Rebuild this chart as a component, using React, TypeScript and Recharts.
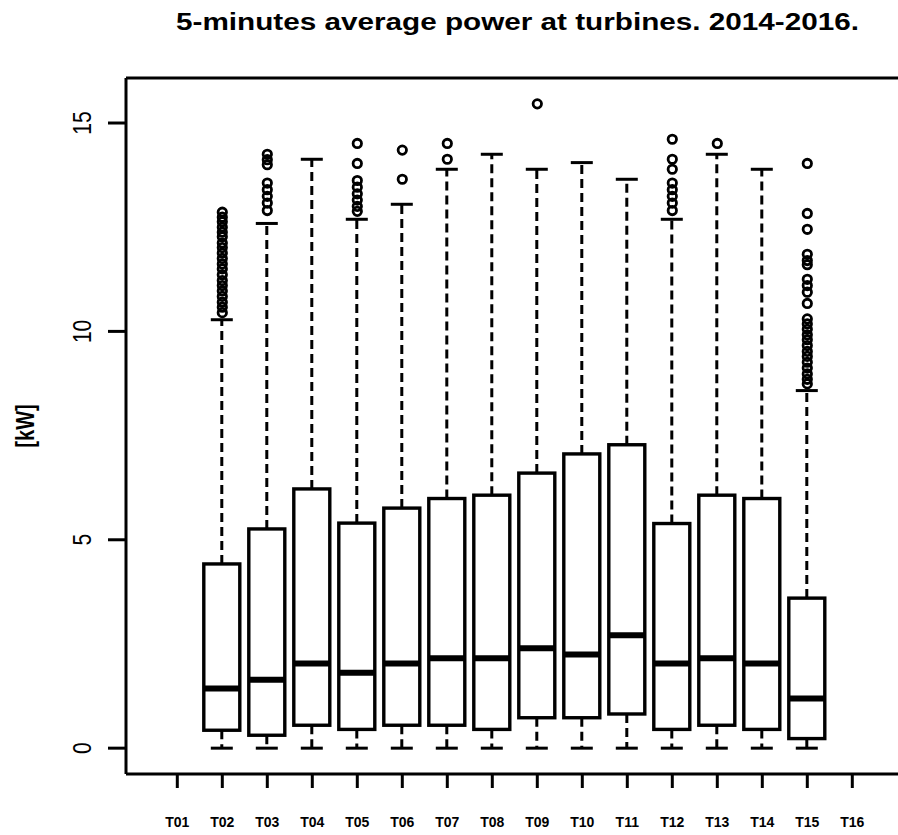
import React from 'react';
import { ComposedChart, Bar, Scatter, XAxis, YAxis, ReferenceLine } from 'recharts';

const turbines = ['T01', 'T02', 'T03', 'T04', 'T05', 'T06', 'T07', 'T08', 'T09', 'T10', 'T11', 'T12', 'T13', 'T14', 'T15', 'T16'];

// box statistics, only T02..T15 have data (positions are 1-based)
const positions = [2, 3, 4, 5, 6, 7, 8, 9, 10, 11, 12, 13, 14, 15];
const lowerWhisker = [0, 0, 0, 0, 0, 0, 0, 0, 0, 0, 0, 0, 0, 0];
const lowerHinge = [0.43, 0.31, 0.55, 0.45, 0.55, 0.55, 0.45, 0.73, 0.73, 0.82, 0.45, 0.55, 0.45, 0.23];
const medians = [1.43, 1.64, 2.03, 1.81, 2.03, 2.16, 2.16, 2.4, 2.25, 2.71, 2.03, 2.16, 2.03, 1.19];
const upperHinge = [4.42, 5.26, 6.22, 5.4, 5.76, 5.99, 6.07, 6.6, 7.06, 7.28, 5.39, 6.07, 5.99, 3.6];
const upperWhisker = [10.28, 12.59, 14.13, 12.69, 13.05, 13.89, 14.25, 13.89, 14.05, 13.65, 12.69, 14.25, 13.89, 8.58];

const outliersT02 = [12.86, 12.74, 12.63, 12.5, 12.38, 12.27, 12.12, 12.01, 11.88, 11.75, 11.62, 11.5, 11.36, 11.22, 11.1, 10.97, 10.84, 10.7, 10.58, 10.45];
const outliersT03 = [14.25, 14.12, 14.0, 13.56, 13.4, 13.24, 13.08, 12.9];
const outliersT05 = [14.51, 14.03, 13.62, 13.46, 13.3, 13.15, 13.0, 12.88];
const outliersT06 = [14.35, 13.65];
const outliersT07 = [14.51, 14.13];
const outliersT09 = [15.46];
const outliersT12 = [14.61, 14.13, 13.89, 13.56, 13.4, 13.24, 13.08, 12.9];
const outliersT13 = [14.51];
const outliersT15 = [14.03, 12.83, 12.45, 11.85, 11.7, 11.6, 11.25, 11.1, 10.94, 10.67, 10.3, 10.18, 10.05, 9.92, 9.8, 9.66, 9.52, 9.4, 9.26, 9.12, 8.98, 8.85, 8.74];

const yTicks = [0, 5, 10, 15];

const boxData = positions.map((x, i) => ({
  x,
  range: [lowerWhisker[i], upperWhisker[i]],
  lo: lowerWhisker[i],
  q1: lowerHinge[i],
  median: medians[i],
  q3: upperHinge[i],
  hi: upperWhisker[i],
}));

const outlierData = ([
  [2, outliersT02],
  [3, outliersT03],
  [5, outliersT05],
  [6, outliersT06],
  [7, outliersT07],
  [9, outliersT09],
  [12, outliersT12],
  [13, outliersT13],
  [15, outliersT15],
] as [number, number[]][]).flatMap(([x, vals]) => vals.map((v) => ({ x, v })));

// R-style ranges: 4% padding on both axes
const xDomain = [-0.14, 17.14];
const yDomain = [-0.62, 16.08];

const font = '"Liberation Sans", Arial, sans-serif';

const BoxShape = (props: any) => {
  const { x, y, width, height, payload } = props;
  if (!payload || !height) return null;
  const { lo, hi, q1, median, q3 } = payload;
  const toY = (v: number) => y + ((hi - v) / (hi - lo)) * height;
  const cx = x + width / 2;
  const cap = 11;
  return (
    <g>
      <line x1={cx} x2={cx} y1={toY(q3)} y2={y} stroke="#000" strokeWidth={3} strokeDasharray="9 5" />
      <line x1={cx} x2={cx} y1={toY(q1)} y2={y + height} stroke="#000" strokeWidth={3} strokeDasharray="9 5" />
      <line x1={cx - cap} x2={cx + cap} y1={y} y2={y} stroke="#000" strokeWidth={3} />
      <line x1={cx - cap} x2={cx + cap} y1={y + height} y2={y + height} stroke="#000" strokeWidth={3} />
      <rect x={x} y={toY(q3)} width={width} height={toY(q1) - toY(q3)} fill="#fff" stroke="#000" strokeWidth={3.4} />
      <line x1={x} x2={x + width} y1={toY(median)} y2={toY(median)} stroke="#000" strokeWidth={6} />
    </g>
  );
};

const OutlierShape = (props: any) => (
  <circle cx={props.cx} cy={props.cy} r={4.2} fill="none" stroke="#000" strokeWidth={2.8} />
);

// rotated tick labels, stretched across the axis like the rest of the figure
const YTick = ({ x, y, payload }: any) => (
  <text
    transform={`translate(${x} ${y}) rotate(-90) scale(1 1.27)`}
    textAnchor="middle"
    fontFamily={font}
    fontSize={21}
    fill="#000"
  >
    {payload.value}
  </text>
);

export default function App() {
  return (
    <div style={{ position: 'absolute', left: 0, top: 0, width: 898, height: 835, overflow: 'hidden', background: '#fff' }}>
      <ComposedChart
        width={920}
        height={835}
        data={boxData}
        margin={{ top: 78, right: 16.4, bottom: 0, left: 0 }}
      >
        <XAxis
          type="number"
          dataKey="x"
          domain={xDomain}
          allowDataOverflow
          ticks={turbines.map((_, i) => i + 1)}
          interval={0}
          tickFormatter={(v: number) => turbines[v - 1]}
          height={61}
          tickSize={14}
          tickMargin={29}
          axisLine={{ stroke: '#000', strokeWidth: 3 }}
          tickLine={{ stroke: '#000', strokeWidth: 3 }}
          tick={{ fill: '#000', fontSize: 14, fontWeight: 'bold', fontFamily: font }}
        />
        <YAxis
          type="number"
          domain={yDomain}
          allowDataOverflow
          ticks={yTicks}
          interval={0}
          width={126}
          tickSize={18}
          tickMargin={17}
          axisLine={{ stroke: '#000', strokeWidth: 3 }}
          tickLine={{ stroke: '#000', strokeWidth: 3 }}
          tick={<YTick />}
        />
        <ReferenceLine y={yDomain[1]} stroke="#000" strokeWidth={3} />
        <Bar dataKey="range" barSize={36} shape={<BoxShape />} isAnimationActive={false} />
        <Scatter data={outlierData} dataKey="v" shape={<OutlierShape />} isAnimationActive={false} />
      </ComposedChart>
      <svg width={898} height={835} style={{ position: 'absolute', left: 0, top: 0, pointerEvents: 'none' }}>
        <text
          x={176}
          y={30}
          textLength={683}
          lengthAdjust="spacingAndGlyphs"
          fontFamily={font}
          fontSize={23}
          fontWeight="bold"
          fill="#000"
        >
          5-minutes average power at turbines. 2014-2016.
        </text>
        <text
          transform="translate(34 426) rotate(-90) scale(1 1.25)"
          textAnchor="middle"
          fontFamily={font}
          fontSize={20}
          fontWeight="bold"
          fill="#000"
        >
          [kW]
        </text>
      </svg>
    </div>
  );
}
